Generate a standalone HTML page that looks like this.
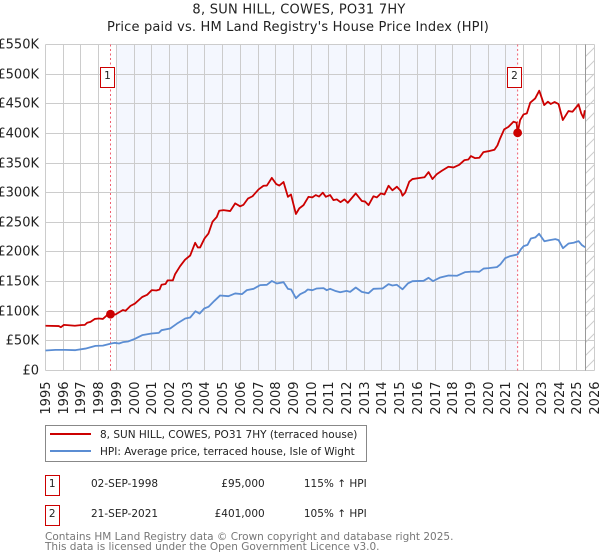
<!DOCTYPE html>
<html>
<head>
<meta charset="utf-8">
<title>8, SUN HILL, COWES, PO31 7HY</title>
<style>
html,body{margin:0;padding:0;background:#fff;width:600px;height:560px;overflow:hidden}
svg{display:block}
text{font-family:"DejaVu Sans","Liberation Sans",sans-serif;fill:#222}
</style>
</head>
<body>
<svg id="chart" xmlns="http://www.w3.org/2000/svg" width="600" height="560" viewBox="0 0 600 560">
  <defs>
    <pattern id="hatch" width="13" height="13" patternUnits="userSpaceOnUse" patternTransform="translate(0 5)">
      <line x1="0" y1="13" x2="13" y2="0" stroke="#ccc" stroke-width="1"/>
    </pattern>
  </defs>
  <text x="299" y="13.5" font-size="13" text-anchor="middle" letter-spacing="0.25">8, SUN HILL, COWES, PO31 7HY</text>
  <text x="298" y="31" font-size="13" text-anchor="middle" letter-spacing="0.18">Price paid vs. HM Land Registry's House Price Index (HPI)</text>
  <g id="plot"></g>

  <g>
    <rect x="45.5" y="425.5" width="321" height="36" fill="#fff" stroke="#888" stroke-width="1"/>
    <line x1="50" y1="434" x2="91" y2="434" stroke="#cc0000" stroke-width="2"/>
    <text x="100" y="438" font-size="10.5">8, SUN HILL, COWES, PO31 7HY (terraced house)</text>
    <line x1="50" y1="451" x2="91" y2="451" stroke="#5b8dd3" stroke-width="2"/>
    <text x="100" y="455" font-size="10.5">HPI: Average price, terraced house, Isle of Wight</text>
  </g>

  <g font-size="10.5">
    <rect x="45.5" y="475.5" width="14" height="20" fill="#fff" stroke="#c00" stroke-width="1"/>
    <text x="52.2" y="487" text-anchor="middle">1</text>
    <text x="91" y="487">02-SEP-1998</text>
    <text x="264.7" y="487" text-anchor="end">£95,000</text>
    <text x="366.7" y="487" text-anchor="end">115% ↑ HPI</text>
    <rect x="45.5" y="505.5" width="14" height="20" fill="#fff" stroke="#c00" stroke-width="1"/>
    <text x="52.2" y="517" text-anchor="middle">2</text>
    <text x="91" y="517">21-SEP-2021</text>
    <text x="264.7" y="517" text-anchor="end">£401,000</text>
    <text x="366.7" y="517" text-anchor="end">105% ↑ HPI</text>
  </g>

  <text x="45" y="540" font-size="10.5" style="fill:#777">Contains HM Land Registry data © Crown copyright and database right 2025.</text>
  <text x="45" y="550" font-size="10.5" style="fill:#777">This data is licensed under the Open Government Licence v3.0.</text>
</svg>
<script>
const yearTicks = [1995,1996,1997,1998,1999,2000,2001,2002,2003,2004,2005,2006,2007,2008,2009,2010,2011,2012,2013,2014,2015,2016,2017,2018,2019,2020,2021,2022,2023,2024,2025,2026];
const valueTicks = [0,50,100,150,200,250,300,350,400,450,500,550];
const valueTickLabels = ['£0','£50K','£100K','£150K','£200K','£250K','£300K','£350K','£400K','£450K','£500K','£550K'];

const saleLabels = ['1','2'];
const saleYears = [1998.67,2021.66];
const salePrices = [95,401];

const shadeStartYear = 1999;
const dataEndYear = 2025.5;

const priceYears = [1995,1995.75,1995.87,1996.04,1996.22,1996.66,1996.98,1997.22,1997.35,1997.54,1997.79,1998.01,1998.24,1998.48,1998.67,1998.95,1999.37,1999.52,1999.8,2000.05,2000.46,2000.74,2001,2001.26,2001.44,2001.55,2001.78,2001.89,2002.19,2002.32,2002.6,2002.88,2003.17,2003.45,2003.6,2003.73,2003.98,2004.2,2004.43,2004.67,2004.81,2005.05,2005.43,2005.71,2005.99,2006.18,2006.43,2006.69,2007.03,2007.31,2007.5,2007.78,2008.03,2008.2,2008.44,2008.69,2008.86,2009.14,2009.33,2009.57,2009.66,2009.85,2010.07,2010.26,2010.45,2010.66,2010.83,2011.07,2011.26,2011.45,2011.66,2011.88,2012.07,2012.52,2012.86,2013.05,2013.24,2013.52,2013.71,2013.94,2014.14,2014.37,2014.59,2014.84,2015.06,2015.16,2015.31,2015.54,2015.72,2016.16,2016.4,2016.63,2016.85,2017.1,2017.38,2017.75,2018.04,2018.36,2018.66,2018.88,2019.02,2019.26,2019.5,2019.73,2020.01,2020.35,2020.52,2020.67,2020.9,2021.14,2021.43,2021.6,2021.66,2021.8,2021.99,2022.18,2022.37,2022.65,2022.88,2023.16,2023.37,2023.53,2023.74,2023.97,2024.21,2024.53,2024.76,2025.1,2025.25,2025.38,2025.45];
const priceValues = [75.5,75,73,77,76.5,75.5,76.5,77,80.5,82,87,87.8,87,93.4,95,94.5,102,100.7,109,113,124,127.7,135.6,135,136.7,144.6,146,152,152,162.6,176,187,194,215.5,207.6,207.6,222.8,231,251,259,269.5,270.6,269,282,277,279.6,290,294,305.5,311.7,312,325,314.5,312,318,293,297,264,273.5,279,283.5,293,292,296,293.5,300,293,296,287.5,288.7,284,288.7,283,298.8,286,285,279,294,292,298.8,297,311.7,304,310,303,295,300,318.5,323,325,326,334.7,323,331.4,337,343.8,342.6,347,355,356,361.8,358.3,359,368.5,370,372.4,379.8,391.5,406.8,411,419.8,418,401,422.5,432,433.8,451.8,459,472,447.8,453.5,449.6,453,449.6,422.5,437.7,436.6,449,433.8,426,439];

const hpiYears = [1995,1995.56,1996.13,1996.69,1997.26,1997.82,1998.24,1998.71,1998.9,1999.15,1999.37,1999.67,2000.05,2000.46,2000.99,2001.4,2001.55,2002.04,2002.42,2002.89,2003.17,2003.47,2003.7,2003.96,2004.2,2004.54,2004.86,2005.33,2005.71,2006.09,2006.37,2006.75,2007.12,2007.5,2007.78,2008.06,2008.44,2008.69,2008.87,2009.14,2009.38,2009.66,2009.81,2010.07,2010.32,2010.7,2010.88,2011.07,2011.35,2011.64,2012.0,2012.2,2012.52,2012.86,2013.24,2013.52,2014.03,2014.37,2014.59,2014.84,2015.16,2015.46,2015.72,2016.35,2016.63,2016.88,2017.29,2017.76,2018.23,2018.7,2019.17,2019.49,2019.74,2020.02,2020.49,2020.68,2020.96,2021.24,2021.66,2021.85,2022.0,2022.22,2022.41,2022.66,2022.87,2023.17,2023.47,2023.79,2023.97,2024.22,2024.54,2024.82,2025.1,2025.29,2025.47];
const hpiValues = [33.7,34.8,34.8,34.3,37,41.6,42,45.5,46.7,45.5,47.8,49,53.4,59.6,62.4,63.5,68,70.8,79,87.7,89.4,100,96,104.6,107.4,117.6,126.6,125.4,130,128.8,135.6,137.8,144,144.6,151,146.8,149,137.8,136.7,122,128.8,132.7,136.7,135.5,138.4,139,135.5,137.8,134.4,132,134.4,132.7,140,132.7,130.4,137.8,138.4,145.7,143.4,144.6,137,146.8,150.7,151.3,156.4,150.8,157,160.3,159.8,166,167,166.5,172,172.7,174.4,179,189.6,193,195.8,204.8,209.8,212,222.8,224.5,230.7,218,220,221.7,220,206.4,214.3,215.5,218.3,211.5,208];

const SVG_NS = 'http://www.w3.org/2000/svg';
const plot = document.getElementById('plot');
const left = 45.5, right = 594.5, top_ = 44.5, bottom = 370.5;
const xOf = y => left + (y - yearTicks[0]) * (right - left) / (yearTicks[yearTicks.length - 1] - yearTicks[0]);
const yOf = v => bottom - v * (bottom - top_) / valueTicks[valueTicks.length - 1];
const snap = p => Math.floor(p) + 0.5;

function make(tag, attrs, text) {
  const el = document.createElementNS(SVG_NS, tag);
  for (const k in attrs) el.setAttribute(k, attrs[k]);
  if (text !== undefined) el.textContent = text;
  plot.appendChild(el);
  return el;
}

const shade = make('rect', {x: snap(xOf(shadeStartYear)), y: top_, width: xOf(saleYears[1]) - snap(xOf(shadeStartYear)), height: bottom - top_, fill: '#f4f7fe'});



const hatch = make('rect', {x: xOf(dataEndYear), y: top_, width: right - xOf(dataEndYear), height: bottom - top_, fill: 'url(#hatch)'});



valueTicks.forEach((v, i) => {
  const p = snap(yOf(v));
  const line = make('line', {x1: left, x2: right, y1: p, y2: p, stroke: '#ccc', 'stroke-width': 1});
  
  
  const label = make('text', {x: 39, y: p + 4, 'font-size': 13, 'text-anchor': 'end'}, valueTickLabels[i]);
  
  
});

yearTicks.forEach(yr => {
  const p = snap(xOf(yr));
  const line = make('line', {x1: p, x2: p, y1: top_, y2: bottom, stroke: '#ccc', 'stroke-width': 1});
  
  
  const label = make('text', {x: 0, y: 0, 'font-size': 13, 'text-anchor': 'end', transform: 'translate(' + (p + 4.5) + ' 381.5) rotate(-90)'}, String(yr));
  
  
});

const endLine = make('line', {x1: snap(xOf(dataEndYear)), x2: snap(xOf(dataEndYear)), y1: top_, y2: bottom, stroke: '#999', 'stroke-width': 1});



saleYears.forEach((yr, i) => {
  const p = xOf(yr);
  const drop = make('line', {x1: p, x2: p, y1: top_, y2: bottom, stroke: '#f06070', 'stroke-width': 1, 'stroke-dasharray': '2 2.5'});
  
  
});

function pathOf(years, values) {
  return years.map((yr, i) => (i ? 'L' : 'M') + xOf(yr).toFixed(2) + ' ' + yOf(values[i]).toFixed(2)).join('');
}

const hpiLine = make('path', {d: pathOf(hpiYears, hpiValues), fill: 'none', stroke: '#5b8dd3', 'stroke-width': 1.8, 'stroke-linejoin': 'round'});



const priceLine = make('path', {d: pathOf(priceYears, priceValues), fill: 'none', stroke: '#cc0000', 'stroke-width': 1.8, 'stroke-linejoin': 'round'});



saleYears.forEach((yr, i) => {
  const dot = make('circle', {cx: xOf(yr), cy: yOf(salePrices[i]), r: 4.4, fill: '#cc0000'});
  
  
  const bx = snap(xOf(yr)) - 10;
  const box = make('rect', {x: bx, y: 67.5, width: 14, height: 20, fill: '#fff', stroke: '#c00', 'stroke-width': 1});
  
  
  const num = make('text', {x: bx + 7, y: 79, 'font-size': 10.5, 'text-anchor': 'middle'}, saleLabels[i]);
  
  
});
</script>
</body>
</html>
